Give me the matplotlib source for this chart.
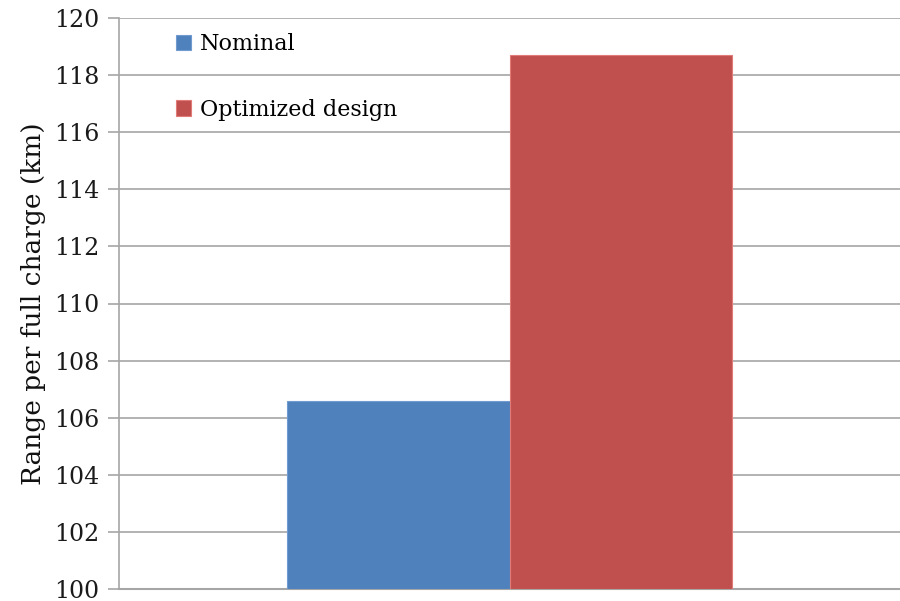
import matplotlib
matplotlib.use("Agg")
import matplotlib.pyplot as plt
import numpy as np

series = ["Nominal", "Optimized design"]
values = [106.6, 118.72]
colors = ["#4f81bd", "#c0504d"]
edge_colors = ["#6f9bd0", "#e07b78"]
yticks = [100, 102, 104, 106, 108, 110, 112, 114, 116, 118, 120]

plt.rcParams['font.family'] = ['DejaVu Serif']

fig = plt.figure(figsize=(9, 6.01), dpi=100)
ax = fig.add_axes([119/900, 12/601, 781/900, 571/601])

width = 0.2855
offsets = [-width/2, width/2]
for v, c, ec, off, lab in zip(values, colors, edge_colors, offsets, series):
    ax.bar(off, v - 100, bottom=100, width=width, color=c, edgecolor=ec,
           linewidth=0.8, label=lab, zorder=3)

ax.set_xlim(-0.5, 0.5)
ax.set_ylim(100, 120)
ax.set_yticks(yticks)
ax.set_yticklabels([str(t) for t in yticks], fontsize=17, color="#1a1a1a")
ax.set_xticks([])
ax.yaxis.grid(True, color="#a6a6a6", linewidth=1.2, zorder=0)
for s in ["top", "right"]:
    ax.spines[s].set_visible(False)
ax.spines["left"].set_color("#a6a6a6")
ax.spines["left"].set_linewidth(1.2)
ax.spines["bottom"].set_color("#a6a6a6")
ax.spines["bottom"].set_linewidth(1.5)
ax.tick_params(axis="y", length=8, width=1.2, color="#a6a6a6", pad=6)
ax.set_ylabel("Range per full charge (km)", fontsize=19, labelpad=6, color="#111111")

leg = ax.legend(loc="upper left", bbox_to_anchor=(0.047, 1.008), frameon=False,
                fontsize=16, handlelength=0.7, handleheight=0.7,
                handletextpad=0.4, labelspacing=1.95)

fig.savefig("out.png", dpi=100)
